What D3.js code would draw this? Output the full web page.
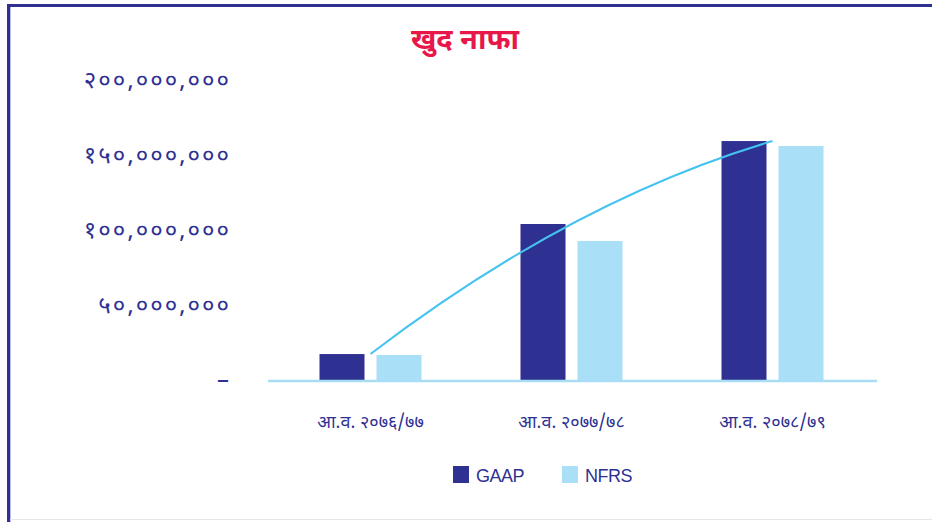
<!DOCTYPE html>
<html>
<head>
<meta charset="utf-8">
<script src="https://cdn.jsdelivr.net/npm/d3@7"></script>
<style>
  body { margin: 0; background: #fff; }
  .workspace { width: 932px; height: 522px; }
</style>
</head>
<body>
<div class="workspace"></div>
<script>
// data
const categories = ['आ.व. २०७६/७७', 'आ.व. २०७७/७८', 'आ.व. २०७८/७९'];
const seriesNames = ['GAAP', 'NFRS'];
const gaapValues = [17300000, 104000000, 159300000];
const nfrsValues = [16700000, 92700000, 156000000];
const yTicks = [0, 50000000, 100000000, 150000000, 200000000];

const width = 932;
const height = 522;
const darkBlue = '#2e3192';
const lightBlue = '#aadff8';
const devFont = '"Noto Sans Devanagari", "Lohit Devanagari", "Noto Sans", sans-serif';

// 0-9 -> Devanagari digits
function toDevanagari(str) {
  return str.replace(/[0-9]/g, function (d) {
    return String.fromCharCode(0x966 + Number(d));
  });
}

const svgDom = d3
  .select('.workspace')
  .append('svg')
  .attr('width', width)
  .attr('height', height);

// frame lines
svgDom.append('rect').attr('x', 7).attr('y', 4).attr('width', 3).attr('height', height - 4).style('fill', darkBlue);
svgDom.append('rect').attr('x', 7).attr('y', 4).attr('width', width - 7).attr('height', 3).style('fill', darkBlue);
svgDom.append('rect').attr('x', 10).attr('y', 7).attr('width', 1).attr('height', height - 7).style('fill', '#b9bbe6');
svgDom.append('rect').attr('x', 10).attr('y', 519).attr('width', width - 10).attr('height', 1).style('fill', '#e6e6e6');

// title
svgDom
  .append('text')
  .attr('x', 465)
  .attr('y', 49)
  .attr('text-anchor', 'middle')
  .style('font-family', devFont)
  .style('font-weight', 'bold')
  .style('font-size', '29px')
  .style('fill', '#e8174a')
  .text('खुद नाफा');

const x = d3.scaleBand().domain(categories).range([270, 873]);
const xInner = d3.scaleBand().domain(seriesNames).range([-51, 51]).paddingInner(12 / 57);
const y = d3.scaleLinear().domain([0, 200000000]).range([380, 80]);

// y axis labels
const yAxis = d3
  .axisLeft(y)
  .tickValues(yTicks)
  .tickSize(0)
  .tickPadding(0)
  .tickFormat(function (d) {
    return d === 0 ? '–' : toDevanagari(d3.format(',')(d));
  });

const yAxisDom = svgDom.append('g').attr('transform', 'translate(231,0)').call(yAxis);
yAxisDom.select('.domain').remove();
yAxisDom
  .selectAll('text')
  .style('font-family', devFont)
  .style('font-size', '24px')
  .style('letter-spacing', '2px')
  .style('fill', darkBlue);

// bars
const groups = svgDom
  .selectAll('g.group')
  .data(categories)
  .enter()
  .append('g')
  .attr('class', 'group')
  .attr('transform', function (d) {
    return `translate(${x(d) + x.bandwidth() / 2},0)`;
  });

groups
  .selectAll('rect')
  .data(function (d, i) {
    return [
      { key: 'GAAP', value: gaapValues[i] },
      { key: 'NFRS', value: nfrsValues[i] },
    ];
  })
  .enter()
  .append('rect')
  .attr('x', function (d) {
    return xInner(d.key);
  })
  .attr('width', xInner.bandwidth())
  .attr('y', function (d) {
    return y(d.value);
  })
  .attr('height', function (d) {
    return y(0) - y(d.value);
  })
  .style('fill', function (d) {
    return d.key === 'GAAP' ? darkBlue : lightBlue;
  });

// baseline
svgDom
  .append('line')
  .attr('x1', 268)
  .attr('x2', 877)
  .attr('y1', y(0) + 1)
  .attr('y2', y(0) + 1)
  .style('stroke', '#a8ddf5')
  .style('stroke-width', 2.5);

// polynomial (order 2) trend line through GAAP, drawn as a quadratic bezier
const pts = gaapValues.map(function (d, i) {
  return [x(categories[i]) + x.bandwidth() / 2, y(d)];
});
const trendPath = d3.path();
trendPath.moveTo(pts[0][0], pts[0][1]);
trendPath.quadraticCurveTo(
  2 * pts[1][0] - (pts[0][0] + pts[2][0]) / 2,
  2 * pts[1][1] - (pts[0][1] + pts[2][1]) / 2,
  pts[2][0],
  pts[2][1]
);

svgDom
  .append('path')
  .attr('d', trendPath.toString())
  .style('fill', 'none')
  .style('stroke', '#45c3f0')
  .style('stroke-width', 2);

// x labels
svgDom
  .selectAll('text.xlabel')
  .data(categories)
  .enter()
  .append('text')
  .attr('class', 'xlabel')
  .attr('x', function (d) {
    return x(d) + x.bandwidth() / 2;
  })
  .attr('y', 428)
  .attr('text-anchor', 'middle')
  .style('font-family', devFont)
  .style('font-size', '18px')
  .style('fill', darkBlue)
  .text(function (d) {
    return d;
  });

// legend
const legendX = [453, 562];
const legend = svgDom
  .selectAll('g.legend')
  .data(seriesNames)
  .enter()
  .append('g')
  .attr('class', 'legend')
  .attr('transform', function (d, i) {
    return `translate(${legendX[i]},466)`;
  });

legend
  .append('rect')
  .attr('width', 16)
  .attr('height', 17)
  .style('fill', function (d, i) {
    return i === 0 ? darkBlue : lightBlue;
  });

legend
  .append('text')
  .attr('x', 23)
  .attr('y', 16)
  .style('font-family', '"Liberation Sans", Arial, sans-serif')
  .style('font-size', '18px')
  .style('letter-spacing', '-0.5px')
  .style('fill', darkBlue)
  .text(function (d) {
    return d;
  });
</script>
</body>
</html>
